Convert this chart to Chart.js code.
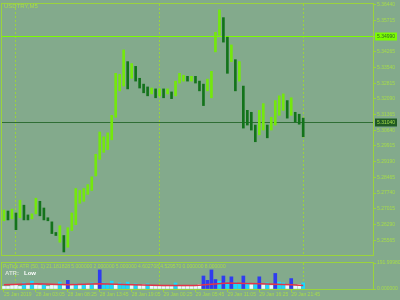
<!DOCTYPE html>
<html lang="en">
<head>
<meta charset="UTF-8">
<title>USDTRY,M5</title>
<script src="https://cdn.jsdelivr.net/npm/chart.js@4.4.1/dist/chart.umd.min.js"></script>
<style>
  body { margin: 0; background: #83aa8c; overflow: hidden; }
  #main { position: absolute; left: 0; top: 0; width: 400px; height: 259px; }
  #ind { position: absolute; left: 0; top: 259px; width: 400px; height: 41px; }
</style>
</head>
<body>
<div id="main"><canvas id="chart"></canvas></div>
<div id="ind"><canvas id="atr"></canvas></div>
<script>
const symbol = 'USDTRY,M5'
const indicatorTitle = 'PqTick ATR (50, 1) 21.181828 5.000000 2.000000 5.000000 4.602708 4.529570 0.000000 8.000000'

// bar highs / lows, one bar per column
const highs = [5.2696,5.2691,5.2700,5.2682,5.2741,5.2718,5.2673,5.2678,5.2750,5.2736,
  5.2705,5.2660,5.2641,5.2592,5.2623,5.2578,5.2614,5.2682,5.2795,5.2786,
  5.2795,5.2813,5.2849,5.2953,5.3056,5.3034,5.3052,5.3133,5.3327,5.3322,
  5.3435,5.3381,5.3372,5.3359,5.3304,5.3277,5.3264,5.3259,5.3255,5.3255,
  5.3255,5.3255,5.3241,5.3291,5.3327,5.3318,5.3313,5.3313,5.3313,5.3291,
  5.3277,5.3300,5.3336,5.3516,5.3620,5.3584,5.3494,5.3458,5.3390,5.3381,
  5.3268,5.3156,5.3147,5.3088,5.3156,5.3187,5.3088,5.3124,5.3201,5.3223,
  5.3232,5.3201,5.3214,5.3147,5.3138,5.3120]
const lows = [5.2646,5.2650,5.2655,5.2605,5.2660,5.2650,5.2650,5.2655,5.2678,5.2669,
  5.2650,5.2646,5.2587,5.2578,5.2547,5.2502,5.2524,5.2601,5.2628,5.2727,
  5.2736,5.2768,5.2786,5.2853,5.2930,5.2962,5.2975,5.3020,5.3124,5.3246,
  5.3268,5.3255,5.3304,5.3291,5.3259,5.3237,5.3223,5.3232,5.3214,5.3223,
  5.3214,5.3232,5.3210,5.3223,5.3282,5.3291,5.3291,5.3291,5.3282,5.3246,
  5.3178,5.3246,5.3214,5.3426,5.3503,5.3471,5.3327,5.3381,5.3246,5.3291,
  5.3074,5.3088,5.3065,5.3011,5.3043,5.3065,5.3029,5.3065,5.3088,5.3133,
  5.3156,5.3120,5.3133,5.3102,5.3092,5.3034]

// indicator histogram and ATR line (ATR read every 8th bar)
const volumes = [19,19,26,32,19,45,26,58,32,26, 38,19,26,26,51,32,64,32,38,26,
  38,32,45,32,141,45,38,58,32,45, 38,51,32,38,26,32,38,26,19,26,
  19,26,19,45,26,19,26,19,26,32, 96,64,141,70,58,96,51,90,51,38,
  96,45,32,38,90,32,45,26,115,51, 45,32,77,26,32,45]
const atrAt = [0, 8, 16, 24, 32, 40, 48, 56, 64, 72, 75]
const atrValues = [32, 38, 32, 38, 32, 26, 26, 45, 38, 32, 26]

const priceTicks = [5.36440, 5.35715, 5.34990, 5.34265, 5.33540, 5.32815, 5.32090, 5.31365,
  5.30640, 5.29915, 5.29190, 5.28465, 5.27740, 5.27015, 5.26290, 5.25565]
const timeLabels = ['25 Jan 2019', '28 Jan 03:05', '28 Jan 08:25', '28 Jan 13:45', '28 Jan 19:05',
  '29 Jan 00:25', '29 Jan 05:45', '29 Jan 11:05', '29 Jan 16:25', '29 Jan 21:45']
const hLine = 5.34990
const bidLine = 5.31040
const atrMax = 191.999808

const slotCount = 93
const labelEvery = 8
const gridAt = [3, 39, 75]

const axisColor = '#9ad33c'
const textColor = '#a6dc4a'
const tinyFont = { family: 'Liberation Sans', size: 5 }

const slots = Array.from({ length: slotCount }, (_, i) =>
  i % labelEvery === 0 && timeLabels[i / labelEvery] ? timeLabels[i / labelEvery] : '')

const mids = highs.map((h, i) => (h + lows[i]) / 2)
const barColors = mids.map((m, i) => i === 0 || m >= mids[i - 1] ? '#74e80c' : '#13731b')

const atrLine = Array(highs.length).fill(null)
atrAt.forEach((i, k) => { atrLine[i] = atrValues[k] })

const volColor = v => v >= 64 ? '#2f3cf0' : v >= 38 ? '#1ad8ff' : '#e8fbff'

const gridColor = c => gridAt.includes(c.index) ? axisColor : 'transparent'

const frame = {
  id: 'frame',
  afterDraw(chart) {
    const { ctx, chartArea: a } = chart
    ctx.save()
    ctx.strokeStyle = axisColor
    ctx.lineWidth = 1
    ctx.strokeRect(a.left - 0.5, a.top - 0.5, a.right - a.left + 1, a.bottom - a.top + 1)
    ctx.restore()
  }
}

function levelTag(ctx, chart, value, line, fill, ink) {
  const y = Math.round(chart.scales.y.getPixelForValue(value)) + 0.5
  const a = chart.chartArea
  ctx.strokeStyle = line
  ctx.beginPath()
  ctx.moveTo(a.left, y)
  ctx.lineTo(a.right, y)
  ctx.stroke()
  ctx.fillStyle = fill
  ctx.fillRect(a.right + 2, y - 4, 22, 8)
  ctx.fillStyle = ink
  ctx.font = '5px "Liberation Sans"'
  ctx.textBaseline = 'middle'
  ctx.fillText(value.toFixed(5), a.right + 4, y)
}

const mainOverlay = {
  id: 'mainOverlay',
  beforeDatasetsDraw(chart) {
    const { ctx } = chart
    ctx.save()
    ctx.lineWidth = 1
    levelTag(ctx, chart, hLine, '#7cfc00', '#7cfc00', '#2c6a2c')
    levelTag(ctx, chart, bidLine, '#2f6e35', '#1f5a24', '#a6dc4a')
    ctx.fillStyle = textColor
    ctx.font = '6px "Liberation Sans"'
    ctx.textBaseline = 'middle'
    ctx.fillText(symbol, 4, 6)
    ctx.restore()
  }
}

const indOverlay = {
  id: 'indOverlay',
  afterDraw(chart) {
    const { ctx, chartArea: a } = chart
    ctx.save()
    ctx.textBaseline = 'middle'
    ctx.font = '5px "Liberation Sans"'
    ctx.fillStyle = textColor
    ctx.fillText(indicatorTitle, a.left + 1, a.top + 4)
    ctx.font = 'bold 6px "Liberation Sans"'
    ctx.fillStyle = '#d6e2d6'
    ctx.fillText('ATR:', a.left + 3, a.top + 10)
    ctx.fillStyle = '#ffffff'
    ctx.fillText('Low', a.left + 22, a.top + 10)
    ctx.restore()
  }
}

new Chart(document.getElementById('chart').getContext('2d'), {
  type: 'bar',
  data: {
    labels: slots,
    datasets: [{
      data: highs.map((h, i) => [lows[i], h]),
      backgroundColor: barColors,
      barThickness: 2,
      borderSkipped: false
    }]
  },
  options: {
    animation: false,
    responsive: true,
    maintainAspectRatio: false,
    layout: { padding: { left: 2, top: 2, bottom: 1, right: 0 } },
    plugins: { legend: { display: false }, tooltip: { enabled: false } },
    scales: {
      x: {
        offset: true,
        grid: { offset: false, color: gridColor, drawTicks: false },
        border: { display: false, dash: [2, 2] },
        ticks: { display: false, autoSkip: false }
      },
      y: {
        position: 'right',
        min: 5.2488,
        max: 5.3647,
        afterBuildTicks: s => { s.ticks = priceTicks.map(v => ({ value: v })) },
        afterFit: s => { s.width = 27 },
        grid: { drawOnChartArea: false, tickLength: 3, tickColor: axisColor },
        border: { display: false },
        ticks: { color: textColor, font: tinyFont, padding: 1, callback: v => v.toFixed(5) }
      }
    }
  },
  plugins: [mainOverlay, frame]
})

new Chart(document.getElementById('atr').getContext('2d'), {
  type: 'bar',
  data: {
    labels: slots,
    datasets: [
      { type: 'line', data: atrLine, borderColor: '#e2334a', borderWidth: 1.5, pointRadius: 0, spanGaps: true, order: 0 },
      { data: volumes, backgroundColor: volumes.map(volColor), barThickness: 3, order: 1 }
    ]
  },
  options: {
    animation: false,
    responsive: true,
    maintainAspectRatio: false,
    layout: { padding: { left: 2, top: 1, bottom: 0, right: 0 } },
    plugins: { legend: { display: false }, tooltip: { enabled: false } },
    scales: {
      x: {
        offset: true,
        grid: { offset: false, color: gridColor, tickLength: 3, tickColor: c => slots[c.index] ? axisColor : 'transparent' },
        border: { display: false, dash: [2, 2] },
        ticks: { autoSkip: false, maxRotation: 0, align: 'start', padding: 0, color: textColor, font: tinyFont, callback: (v, i) => slots[i] },
        afterFit: s => { s.height = 11 }
      },
      y: {
        position: 'right',
        min: 0,
        max: atrMax,
        afterBuildTicks: s => { s.ticks = [{ value: atrMax }, { value: 0 }] },
        afterFit: s => { s.width = 27 },
        grid: { drawOnChartArea: false, tickLength: 3, tickColor: axisColor },
        border: { display: false },
        ticks: { color: textColor, font: tinyFont, padding: 1, callback: v => v === 0 ? '0.000000' : v.toFixed(6) }
      }
    }
  },
  plugins: [indOverlay, frame]
})
</script>
</body>
</html>
